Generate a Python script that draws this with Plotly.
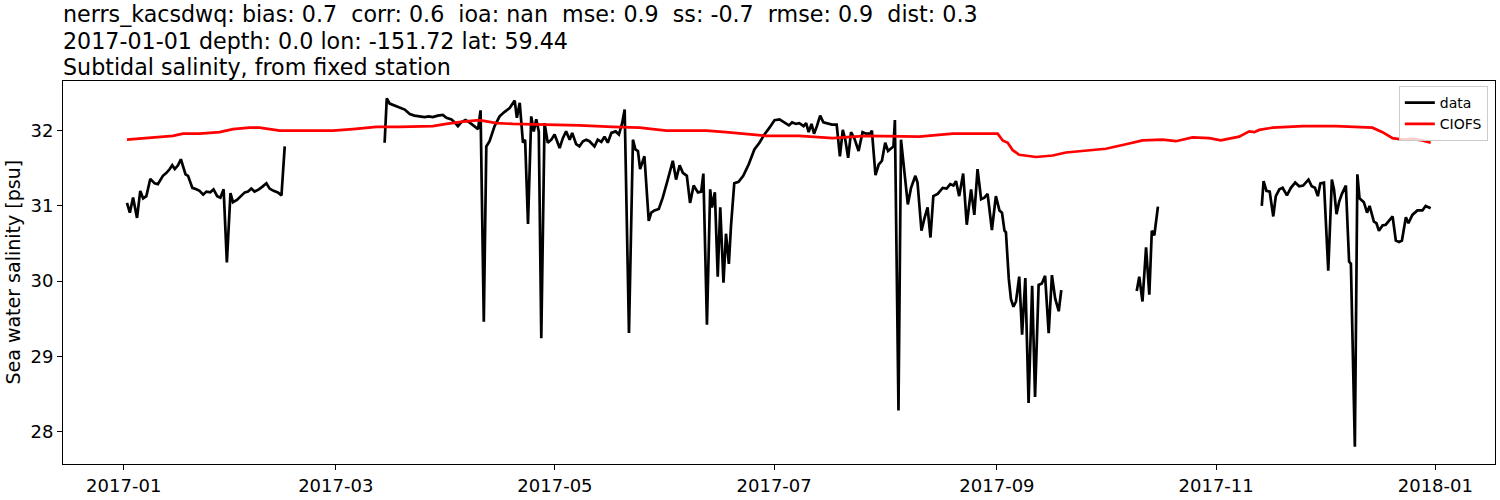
import pandas as pd
import plotly.graph_objects as go

# ---- data (day offsets from 2017-01-01, salinity in psu) ----
start = pd.Timestamp("2017-01-01")

obs1_days = [0.9, 1.7, 2.6, 3.7, 4.6, 5.4, 6.3, 7.4, 8.6, 9.5, 10.9, 11.9, 12.8, 13.5, 14.2, 15.1,
             15.9, 16.5, 17.2, 17.9, 19.1, 20.2, 21.1, 22.1, 23.0, 24.1, 25.0, 26.0, 26.9, 27.8,
             28.7, 29.7, 30.4, 31.5, 32.7, 33.7, 34.6, 35.5, 36.4, 37.6, 38.7, 39.7, 40.6, 41.7,
             42.9, 43.9, 44.8]
obs1_vals = [31.04, 30.91, 31.11, 30.84, 31.20, 31.10, 31.13, 31.36, 31.30, 31.29, 31.40, 31.44,
             31.49, 31.54, 31.49, 31.54, 31.62, 31.52, 31.42, 31.40, 31.24, 31.22, 31.20, 31.15,
             31.19, 31.18, 31.22, 31.13, 31.11, 31.22, 30.25, 31.17, 31.05, 31.08, 31.13, 31.18,
             31.19, 31.23, 31.19, 31.22, 31.26, 31.30, 31.23, 31.20, 31.18, 31.14, 31.79]

obs2_days = [72.6, 73.2, 74.0, 75.4, 76.8, 78.2, 79.6, 80.9, 82.3, 83.7, 84.9, 86.0, 87.4, 88.8,
             89.8, 91.2, 92.1, 93.0, 93.9, 95.1, 96.2, 97.4, 98.6, 99.3, 100.2, 100.9, 101.8,
             103.2, 104.6, 106.0, 107.4, 108.8, 109.4, 110.2, 111.1, 111.7, 112.5, 113.4, 114.1,
             114.8, 115.5, 116.2, 117.1, 118.0, 119.0, 119.9, 121.3, 122.2, 123.1, 124.1, 124.8,
             125.9, 126.8, 127.8, 128.7, 129.6, 131.0, 131.9, 132.9, 133.8, 134.7, 135.7, 136.9,
             137.8, 138.7, 139.4, 140.6, 141.7, 142.4, 143.1, 143.7, 144.9, 145.6, 146.1, 146.8,
             147.7, 148.9, 150.0, 151.4, 152.8, 153.7, 154.7, 155.6, 156.7, 157.6, 158.6, 159.8,
             160.7, 161.3, 162.3, 163.2, 163.7, 164.5, 165.3, 166.0, 166.9, 167.6, 168.4, 169.0,
             169.9, 171.1, 172.4, 173.9, 175.5, 176.9, 178.3, 179.7, 181.1, 182.5, 183.9, 185.1,
             186.0, 187.1, 188.0, 189.2, 189.9, 190.6, 191.4, 192.1, 192.9, 193.8, 194.7, 195.9,
             197.1, 198.4, 199.3, 200.1, 200.8, 201.6, 202.4, 203.3, 204.5, 205.6, 206.6, 207.7,
             208.2, 209.2, 210.1, 211.0, 211.9, 212.7, 213.5, 214.2, 214.6, 215.6, 216.3, 217.3,
             218.2, 219.1, 220.3, 220.9, 222.0, 222.8, 223.7, 224.5, 225.3, 226.5, 227.9, 229.0,
             230.0, 230.9, 231.6, 232.5, 233.6, 234.6, 235.8, 236.7, 237.6, 238.6, 239.5, 240.4,
             241.6, 242.7, 243.7, 244.4, 245.1, 245.5, 246.3, 246.9, 247.6, 248.3, 249.2, 250.0,
             250.9, 251.8, 252.8, 253.6, 254.6, 255.5, 256.4, 257.4, 258.3, 259.2, 260.2, 260.9]
obs2_vals = [31.84, 32.43, 32.36, 32.33, 32.30, 32.28, 32.22, 32.20, 32.19, 32.18, 32.19, 32.18,
             32.20, 32.21, 32.17, 32.15, 32.11, 32.06, 32.11, 32.14, 32.11, 32.07, 32.02, 32.27,
             29.46, 31.79, 31.86, 32.06, 32.19, 32.25, 32.30, 32.40, 32.17, 32.37, 31.84, 31.88,
             30.76, 32.19, 31.99, 32.15, 31.99, 29.24, 32.10, 31.84, 31.88, 31.95, 31.77, 31.90,
             31.99, 31.88, 31.97, 31.82, 31.79, 31.86, 31.88, 31.86, 31.79, 31.88, 31.85, 31.92,
             31.84, 31.97, 31.99, 31.95, 32.10, 32.28, 29.31, 31.88, 31.75, 31.73, 31.49, 31.66,
             31.22, 30.80, 30.91, 30.94, 30.96, 31.11, 31.35, 31.60, 31.35, 31.54, 31.44, 31.40,
             31.04, 31.27, 31.18, 31.19, 31.43, 29.42, 31.22, 30.98, 31.18, 30.06, 30.98, 29.98,
             30.63, 30.23, 30.74, 31.30, 31.32, 31.40, 31.55, 31.75, 31.84, 31.95, 32.04, 32.14,
             32.15, 32.11, 32.07, 32.11, 32.09, 32.10, 32.06, 32.10, 31.98, 32.09, 31.96, 32.06,
             32.20, 32.11, 32.09, 32.08, 32.08, 31.66, 32.01, 31.88, 31.64, 31.98, 31.90, 31.73,
             31.98, 31.96, 31.96, 32.00, 31.41, 31.55, 31.60, 31.84, 31.73, 31.76, 31.79, 32.14,
             28.28, 31.88, 31.40, 31.02, 31.24, 31.40, 31.31, 30.67, 30.83, 30.98, 30.58, 31.13,
             31.16, 31.24, 31.23, 31.29, 31.27, 31.33, 31.13, 31.43, 30.75, 31.22, 30.88, 31.49,
             31.09, 31.11, 31.16, 30.68, 31.13, 30.94, 30.91, 30.67, 30.65, 30.03, 29.76, 29.66,
             29.73, 30.06, 29.29, 30.04, 28.38, 29.94, 28.46, 29.95, 29.97, 30.07, 29.31, 30.08,
             29.77, 29.60, 29.88]

obs3_days = [281.9, 282.6, 283.5, 284.5, 285.4, 286.1, 286.8, 287.8]
obs3_vals = [29.87, 30.06, 29.73, 30.45, 29.82, 30.67, 30.61, 30.99]

obs4_days = [316.7, 317.2, 318.0, 318.9, 319.9, 320.6, 321.6, 322.5, 323.7, 324.8, 326.0, 327.1,
             328.2, 329.7, 330.6, 331.5, 332.3, 333.0, 334.0, 334.5, 335.2, 336.2, 336.8, 337.5,
             338.2, 339.0, 340.1, 341.0, 341.5, 342.6, 343.3, 343.9, 345.1, 346.0, 346.7, 347.9,
             348.6, 349.3, 350.3, 351.2, 352.1, 353.1, 354.0, 354.9, 355.7, 356.8, 357.5, 358.6,
             360.0, 361.4, 362.3, 363.0, 363.7]
obs4_vals = [31.00, 31.33, 31.20, 31.19, 30.86, 31.13, 31.22, 31.24, 31.14, 31.24, 31.31, 31.26,
             31.27, 31.35, 31.26, 31.24, 31.13, 31.30, 31.31, 30.83, 30.14, 31.35, 31.22, 30.89,
             31.05, 31.16, 31.27, 30.26, 30.23, 27.80, 31.42, 31.10, 31.05, 30.91, 31.00, 30.79,
             30.77, 30.67, 30.74, 30.75, 30.80, 30.86, 30.54, 30.52, 30.54, 30.85, 30.77, 30.88,
             30.94, 30.94, 31.00, 30.99, 30.97]

model_days = [0.9, 7.2, 13.7, 16.5, 21.1, 26.7, 30.4, 35.0, 37.8, 43.4, 49.0, 58.2, 63.8, 70.3,
              76.8, 86.0, 89.8, 94.4, 99.0, 103.7, 108.3, 117.6, 126.8, 136.1, 143.5, 151.0,
              162.1, 167.6, 174.1, 178.8, 188.0, 197.3, 206.6, 215.9, 221.4, 230.7, 243.2, 244.6,
              246.0, 247.4, 249.2, 253.9, 258.5, 262.2, 267.8, 273.3, 278.9, 283.5, 289.1, 292.8,
              297.4, 302.1, 305.3, 310.4, 313.2, 314.6, 316.0, 319.7, 328.1, 337.3, 347.5, 350.3,
              353.1, 355.8, 358.6, 361.4, 363.7]
model_vals = [31.88, 31.90, 31.93, 31.96, 31.96, 31.98, 32.02, 32.04, 32.04, 32.00, 32.00, 32.00,
              32.02, 32.05, 32.05, 32.06, 32.09, 32.12, 32.14, 32.10, 32.09, 32.08, 32.07, 32.05,
              32.04, 32.00, 32.00, 31.98, 31.95, 31.93, 31.93, 31.90, 31.93, 31.93, 31.92, 31.96,
              31.96, 31.87, 31.84, 31.74, 31.68, 31.65, 31.67, 31.71, 31.74, 31.76, 31.82, 31.87,
              31.88, 31.86, 31.91, 31.90, 31.87, 31.92, 31.99, 31.98, 32.01, 32.04, 32.06, 32.06,
              32.04, 31.98, 31.90, 31.88, 31.89, 31.87, 31.84]

tick_dates = ["2017-01-01", "2017-03-01", "2017-05-01", "2017-07-01", "2017-09-01",
              "2017-11-01", "2018-01-01"]
tick_labels = ["2017-01", "2017-03", "2017-05", "2017-07", "2017-09", "2017-11", "2018-01"]
y_ticks = [28, 29, 30, 31, 32]

title_lines = [
    "nerrs_kacsdwq: bias: 0.7  corr: 0.6  ioa: nan  mse: 0.9  ss: -0.7  rmse: 0.9  dist: 0.3",
    "2017-01-01 depth: 0.0 lon: -151.72 lat: 59.44",
    "Subtidal salinity, from fixed station",
]

# ---- build series (gaps between segments) ----
def to_dates(days):
    return list(start + pd.to_timedelta(days, unit="D"))

obs_x, obs_y = [], []
for d, v in [(obs1_days, obs1_vals), (obs2_days, obs2_vals), (obs3_days, obs3_vals), (obs4_days, obs4_vals)]:
    assert len(d) == len(v), (len(d), len(v))
    if obs_x:
        obs_x.append(None)
        obs_y.append(None)
    obs_x += to_dates(d)
    obs_y += v
assert len(model_days) == len(model_vals)

FONT = "DejaVu Sans"
fig = go.Figure()
fig.add_trace(go.Scatter(x=obs_x, y=obs_y, mode="lines", name="data",
                         line=dict(color="black", width=2.7), connectgaps=False))
fig.add_trace(go.Scatter(x=to_dates(model_days), y=model_vals, mode="lines", name="CIOFS",
                         line=dict(color="red", width=2.7)))

x0 = start + pd.Timedelta(days=-16.9)
x1 = start + pd.Timedelta(days=381.6)

fig.update_layout(
    width=1500, height=500,
    margin=dict(l=63, r=4, t=81, b=33, pad=0),
    paper_bgcolor="white", plot_bgcolor="white",
    font=dict(family=FONT, color="black", size=18),
    showlegend=True,
    legend=dict(x=0.995, y=0.987, xanchor="right", yanchor="top",
                bgcolor="rgba(255,255,255,0.8)", bordercolor="#cccccc", borderwidth=1,
                font=dict(family=FONT, size=14, color="black"),
                itemwidth=30, tracegroupgap=0),
    xaxis=dict(type="date", range=[x0, x1], tickvals=tick_dates, ticktext=tick_labels,
               showgrid=False, zeroline=False, showline=True, linecolor="black", linewidth=1,
               mirror=True, ticks="outside", ticklen=5, tickwidth=1, tickcolor="black",
               tickfont=dict(family=FONT, size=18, color="black")),
    yaxis=dict(range=[27.57, 32.66], tickvals=y_ticks,
               showgrid=False, zeroline=False, showline=True, linecolor="black", linewidth=1,
               mirror=True, ticks="outside", ticklen=5, tickwidth=1, tickcolor="black",
               tickfont=dict(family=FONT, size=18, color="black")),
)

# title lines (left aligned above the axes)
for line, shift in zip(title_lines, [67, 40, 14]):
    fig.add_annotation(text=line, xref="paper", yref="paper", x=0, y=1,
                       xanchor="left", yanchor="middle", yshift=shift, xshift=-2,
                       showarrow=False, font=dict(family=FONT, size=22.2, color="black"))

# y-axis label
fig.add_annotation(text="Sea water salinity [psu]", xref="paper", yref="paper", x=0, y=0.5,
                   xanchor="center", yanchor="middle", xshift=-51, textangle=-90,
                   showarrow=False, font=dict(family=FONT, size=19, color="black"))

fig.write_html("out.html", config={"displayModeBar": False},
               post_script="document.body.style.margin='0';document.body.style.overflow='hidden';")
